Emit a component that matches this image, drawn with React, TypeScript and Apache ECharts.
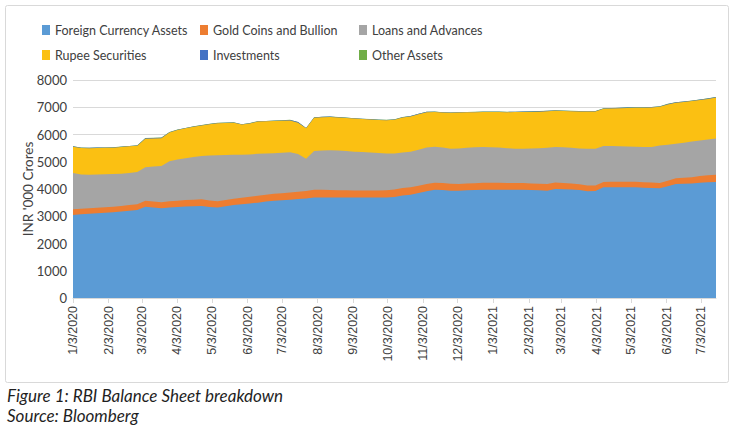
import React, { useEffect, useRef } from "react";
import * as echarts from "echarts";

const seriesNames = [
  "Foreign Currency Assets",
  "Gold Coins and Bullion",
  "Loans and Advances",
  "Rupee Securities",
  "Investments",
  "Other Assets",
];
const colors = ["#5b9bd5", "#ed7d31", "#a5a5a5", "#fbc012", "#4472c4", "#70ad47"];

const tickLabels = [
  "1/3/2020", "2/3/2020", "3/3/2020", "4/3/2020", "5/3/2020", "6/3/2020", "7/3/2020",
  "8/3/2020", "9/3/2020", "10/3/2020", "11/3/2020", "12/3/2020", "1/3/2021", "2/3/2021",
  "3/3/2021", "4/3/2021", "5/3/2021", "6/3/2021", "7/3/2021",
];
const yTicks = [0, 1000, 2000, 3000, 4000, 5000, 6000, 7000, 8000];

// weekly observations starting 1/3/2020
const foreignCurrencyAssets = [
  3050, 3070, 3090, 3110, 3130, 3150, 3170, 3200, 3230, 3350,
  3320, 3290, 3320, 3340, 3360, 3370, 3380, 3340, 3320, 3370,
  3410, 3440, 3470, 3500, 3540, 3570, 3590, 3610, 3630, 3650,
  3690, 3690, 3690, 3690, 3690, 3690, 3690, 3690, 3690, 3690,
  3710, 3760, 3790, 3850, 3920, 3970, 3960, 3940, 3940, 3950,
  3960, 3970, 3975, 3975, 3970, 3975, 3975, 3960, 3950, 3940,
  4000, 3990, 3980, 3960, 3920, 3930, 4060, 4060, 4060, 4060,
  4060, 4050, 4040, 4030, 4100, 4180, 4190, 4200, 4230, 4250,
  4260,
];
const goldCoinsBullion = [
  210, 208, 205, 200, 198, 200, 205, 210, 212, 215,
  220, 224, 228, 232, 236, 238, 245, 240, 230, 228,
  232, 238, 245, 248, 250, 252, 255, 262, 270, 280,
  285, 282, 275, 268, 262, 258, 255, 252, 255, 262,
  270, 275, 272, 268, 265, 262, 258, 250, 248, 250,
  252, 255, 252, 250, 248, 245, 246, 244, 242, 240,
  238, 230, 222, 215, 205, 200, 200, 205, 210, 208,
  205, 200, 195, 190, 200, 215, 225, 235, 245, 255,
  260,
];
const loansAdvances = [
  1330, 1252, 1225, 1220, 1217, 1200, 1185, 1180, 1178, 1235,
  1290, 1326, 1472, 1508, 1534, 1562, 1585, 1650, 1690, 1652,
  1618, 1582, 1555, 1542, 1510, 1488, 1485, 1478, 1380, 1180,
  1415, 1438, 1455, 1452, 1438, 1422, 1415, 1398, 1375, 1348,
  1320, 1305, 1308, 1322, 1335, 1318, 1302, 1290, 1302, 1310,
  1318, 1315, 1303, 1295, 1282, 1260, 1259, 1286, 1308, 1330,
  1302, 1310, 1308, 1315, 1355, 1350, 1320, 1310, 1300, 1292,
  1285, 1295, 1310, 1380, 1320, 1265, 1285, 1305, 1305, 1315,
  1330,
];
const rupeeSecurities = [
  965, 975, 980, 975, 965, 965, 985, 975, 965, 1045,
  1025, 1025, 1055, 1085, 1095, 1115, 1120, 1145, 1175, 1175,
  1170, 1105, 1135, 1185, 1185, 1185, 1175, 1165, 1155, 1115,
  1225, 1225, 1220, 1215, 1215, 1215, 1205, 1210, 1215, 1225,
  1245, 1285, 1295, 1305, 1295, 1275, 1285, 1315, 1315, 1305,
  1290, 1285, 1295, 1305, 1320, 1343, 1345, 1340, 1335, 1345,
  1335, 1335, 1345, 1355, 1360, 1365, 1365, 1380, 1395, 1415,
  1430, 1440, 1450, 1415, 1485, 1505, 1495, 1485, 1485, 1485,
  1505,
];
const investments = [
  10, 12, 10, 15, 12, 10, 10, 12, 15, 20,
  20, 18, 10, 10, 10, 12, 10, 10, 10, 10,
  10, 10, 10, 10, 10, 10, 10, 18, 20, 12,
  10, 15, 18, 12, 10, 10, 10, 10, 10, 10,
  10, 10, 10, 15, 18, 12, 10, 10, 10, 10,
  10, 10, 10, 10, 10, 10, 15, 18, 20, 15,
  10, 10, 10, 10, 10, 12, 10, 10, 15, 18,
  12, 10, 10, 15, 18, 15, 12, 15, 18, 20,
  20,
];
const otherAssets = [
  5, 5, 5, 5, 5, 5, 5, 5, 5, 5,
  5, 5, 5, 5, 5, 5, 5, 5, 5, 5,
  5, 5, 5, 5, 5, 5, 5, 5, 5, 5,
  5, 5, 5, 5, 5, 5, 5, 5, 5, 5,
  5, 5, 5, 5, 5, 5, 5, 5, 5, 5,
  5, 5, 5, 5, 5, 5, 5, 5, 5, 5,
  5, 5, 5, 5, 5, 5, 5, 5, 5, 5,
  5, 5, 5, 5, 5, 5, 5, 5, 5, 5,
  5,
];

const allSeries = [
  foreignCurrencyAssets,
  goldCoinsBullion,
  loansAdvances,
  rupeeSecurities,
  investments,
  otherAssets,
];

const startUTC = Date.UTC(2020, 0, 3);
const dayOf = (s: string) => {
  const [m, d, y] = s.split("/").map(Number);
  return Math.round((Date.UTC(y, m - 1, d) - startUTC) / 86400000);
};
const tickDays = tickLabels.map(dayOf);
const weekDays = foreignCurrencyAssets.map((_, i) => i * 7);
const labelByDay: Record<number, string> = {};
tickDays.forEach((d, i) => (labelByDay[d] = tickLabels[i]));

// stacked tops (running sums of the series below)
const stackedTops: number[][] = [];
allSeries.forEach((vals, k) => {
  stackedTops.push(vals.map((v, i) => v + (k > 0 ? stackedTops[k - 1][i] : 0)));
});

const FONT = "Lato, 'Liberation Sans', sans-serif";

export default function App() {
  const ref = useRef<HTMLDivElement>(null);
  useEffect(() => {
    if (!ref.current) return;
    const chart = echarts.init(ref.current, undefined, { renderer: "svg" });
    const legendText = { color: "#404040", fontSize: 12.5, fontFamily: FONT, lineHeight: 14 };
    const legendCommon = {
      orient: "vertical" as const,
      top: 23,
      padding: 0,
      itemWidth: 8,
      itemHeight: 10,
      itemGap: 11,
      icon: "rect",
      textStyle: legendText,
      selectedMode: false,
    };
    const order = [5, 4, 3, 2, 1, 0];
    chart.setOption({
      animation: false,
      backgroundColor: "#ffffff",
      legend: [
        { ...legendCommon, left: 42, data: [seriesNames[0], seriesNames[3]] },
        { ...legendCommon, left: 200, data: [seriesNames[1], seriesNames[4]] },
        { ...legendCommon, left: 359, data: [seriesNames[2], seriesNames[5]] },
      ],
      grid: { left: 73, right: 20, top: 80, bottom: 131, containLabel: false },
      xAxis: {
        type: "value",
        min: 0,
        max: weekDays[weekDays.length - 1],
        splitLine: { show: false },
        axisLine: { show: true, lineStyle: { color: "#d9d9d9", width: 1 } },
        axisTick: {
          show: true,
          customValues: tickDays,
          length: 5,
          lineStyle: { color: "#d9d9d9" },
        },
        axisLabel: {
          customValues: tickDays,
          rotate: 90,
          margin: 8,
          color: "#404040",
          fontSize: 12.5,
          fontFamily: "'Liberation Sans', sans-serif",
          formatter: (v: number) => labelByDay[Math.round(v)] ?? "",
        },
      },
      yAxis: {
        type: "value",
        min: 0,
        max: 8000,
        interval: 1000,
        name: "INR '000 Crores",
        nameLocation: "middle",
        nameGap: 38,
        nameMoveOverlap: false,
        nameTextStyle: { color: "#404040", fontSize: 13.5, fontFamily: FONT },
        axisLine: { show: false },
        axisTick: { show: false },
        axisLabel: {
          color: "#404040",
          fontSize: 13,
          fontFamily: FONT,
          margin: 6,
          formatter: (v: number) => (yTicks.includes(v) ? String(v) : ""),
        },
        splitLine: { lineStyle: { color: "#d9d9d9", width: 1 } },
      },
      graphic: [
        {
          type: "rect",
          silent: true,
          z: -10,
          shape: { x: 5.5, y: 5.5, width: 723, height: 377, r: 2 },
          style: { fill: "none", stroke: "#d9d9d9", lineWidth: 1 },
        },
        {
          type: "text",
          left: 7,
          top: 387,
          style: {
            text: "Figure 1: RBI Balance Sheet breakdown",
            fontSize: 17,
            fontStyle: "italic",
            fontFamily: FONT,
            fill: "#1f1f1f",
          },
        },
        {
          type: "text",
          left: 7,
          top: 407,
          style: {
            text: "Source: Bloomberg",
            fontSize: 17,
            fontStyle: "italic",
            fontFamily: FONT,
            fill: "#1f1f1f",
          },
        },
      ],
      series: order.map((k) => ({
        name: seriesNames[k],
        type: "line",
        showSymbol: false,
        symbol: "none",
        lineStyle: { width: 0, color: colors[k] },
        areaStyle: { color: colors[k], opacity: 1 },
        itemStyle: { color: colors[k] },
        data: stackedTops[k].map((v, i) => [weekDays[i], v]),
      })),
    });
    return () => chart.dispose();
  }, []);
  return (
    <div
      ref={ref}
      style={{ position: "fixed", left: 0, top: 0, width: 736, height: 429 }}
    />
  );
}
